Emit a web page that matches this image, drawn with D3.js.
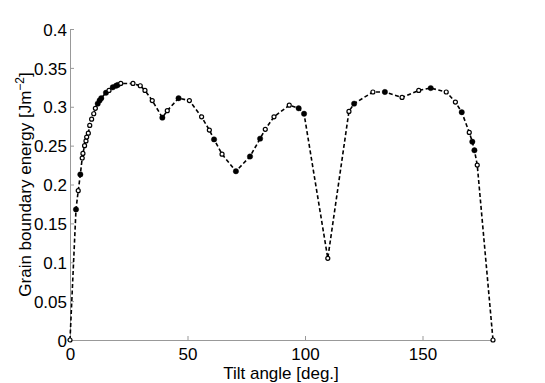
<!DOCTYPE html>
<html>
<head>
<meta charset="utf-8">
<script src="https://cdn.jsdelivr.net/npm/d3@7"></script>
<style>
  body { margin: 0; background: #fff; }
  svg { display: block; font-family: "Liberation Sans", Arial, sans-serif; }
</style>
</head>
<body>
<svg id="chart" width="545" height="383"></svg>
<script>
// open-marker series
const openAngles = [0, 3.5, 5.2, 5.5, 6.2, 6.8, 7.1, 7.8, 8.4, 9.2, 10.1, 10.8, 16.6, 21.6, 26.8, 29.9, 31.9, 35.0,
    41.4, 50.8, 56.0, 59.3, 64.7, 83.1, 86.8, 93.3, 109.7, 118.7, 128.9, 141.3, 148.4, 160.1, 164.0, 169.9, 173.3, 180];
const openEnergies = [0, 0.192, 0.234, 0.240, 0.250, 0.256, 0.261, 0.266, 0.276, 0.284, 0.291, 0.298, 0.321, 0.330, 0.330, 0.327, 0.321, 0.308,
    0.295, 0.308, 0.287, 0.270, 0.239, 0.271, 0.287, 0.302, 0.105, 0.294, 0.319, 0.312, 0.321, 0.319, 0.306, 0.267, 0.225, 0];

// filled-marker series
const filledAngles = [2.55, 4.4, 11.8, 12.6, 13.3, 15.3, 18.2, 19.6, 20.3, 39.3, 46.2, 61.3, 70.6, 76.6, 80.9,
    97.3, 99.6, 120.9, 134.0, 153.5, 166.7, 171.2, 172.1];
const filledEnergies = [0.168, 0.213, 0.304, 0.308, 0.311, 0.318, 0.325, 0.327, 0.328, 0.286, 0.311, 0.258, 0.217, 0.236, 0.259,
    0.298, 0.291, 0.304, 0.319, 0.324, 0.293, 0.255, 0.244];

const xTicks = [0, 50, 100, 150];
const yTicks = [0, 0.05, 0.1, 0.15, 0.2, 0.25, 0.3, 0.35, 0.4];

const svg = d3.select("#chart");
const margin = { top: 29, right: 52, bottom: 43, left: 70 };
const width = 545 - margin.left - margin.right;
const height = 383 - margin.top - margin.bottom;

const x = d3.scaleLinear().domain([0, 180]).range([0, width]);
const y = d3.scaleLinear().domain([0, 0.4]).range([height, 0]);

const chart = svg.append("g").attr("transform", `translate(${margin.left},${margin.top})`);

const openPts = openAngles.map((a, i) => ({ a, e: openEnergies[i], filled: false }));
const filledPts = filledAngles.map((a, i) => ({ a, e: filledEnergies[i], filled: true }));
const all = openPts.concat(filledPts).sort((p, q) => p.a - q.a);

// axes (MATLAB style, ticks pointing inward)
const xAxis = chart.append("g")
    .attr("transform", `translate(0,${height})`)
    .call(d3.axisBottom(x).tickValues(xTicks).tickSize(-4).tickPadding(8).tickSizeOuter(0));
const yAxis = chart.append("g")
    .call(d3.axisLeft(y).tickValues(yTicks).tickSize(-4).tickPadding(3).tickSizeOuter(0)
        .tickFormat(d => d === 0 ? "0" : String(+d.toFixed(2))));

[xAxis, yAxis].forEach(g => {
    g.select(".domain").attr("stroke", "#999");
    g.selectAll(".tick line").attr("stroke", "#999");
    g.selectAll(".tick text").attr("fill", "#000").attr("font-size", "17px")
        .attr("font-family", "Liberation Sans, Arial, sans-serif");
});
yAxis.selectAll(".tick text").attr("dy", "0.36em");

// dashed line through all points
const line = d3.line().x(d => x(d.a)).y(d => y(d.e));
chart.append("path")
    .datum(all)
    .attr("fill", "none")
    .attr("stroke", "#000")
    .attr("stroke-width", 1.6)
    .attr("stroke-dasharray", "4,2.5")
    .attr("d", line);

// markers
chart.selectAll(".pt")
    .data(all)
    .join("circle")
    .attr("class", "pt")
    .attr("cx", d => x(d.a))
    .attr("cy", d => y(d.e))
    .attr("r", d => d.filled ? 2.7 : 2)
    .attr("fill", d => d.filled ? "#000" : "#fff")
    .attr("stroke", "#000")
    .attr("stroke-width", d => d.filled ? 0.4 : 1.2);

// axis titles
svg.append("text")
    .attr("x", 281)
    .attr("y", 379)
    .attr("text-anchor", "middle")
    .attr("font-size", "17px")
    .text("Tilt angle [deg.]");

const yl = svg.append("text")
    .attr("transform", `translate(31,${margin.top + height / 2}) rotate(-90)`)
    .attr("text-anchor", "middle")
    .attr("font-size", "17px");
yl.append("tspan").text("Grain boundary energy [Jm");
yl.append("tspan").attr("font-size", "12px").attr("dy", "-7").text("\u22122");
yl.append("tspan").attr("dy", "7").text("]");
</script>
</body>
</html>
